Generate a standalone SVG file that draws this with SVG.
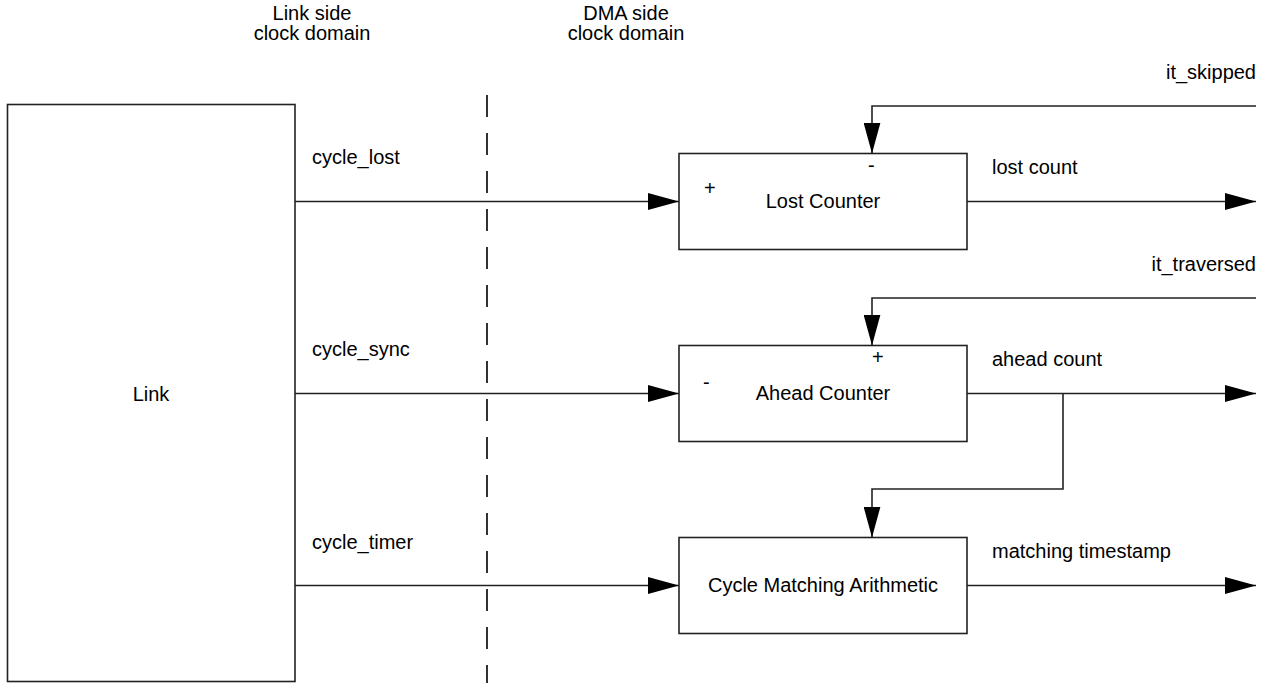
<svg xmlns="http://www.w3.org/2000/svg" width="1262" height="683" viewBox="0 0 1262 683">
<style>
text{font-family:"Liberation Sans",Arial,sans-serif;font-size:20px;fill:#000}
.box{fill:#fff;stroke:#222;stroke-width:1.6}
.wire{fill:none;stroke:#222;stroke-width:1.6}
.mid{text-anchor:middle}
.end{text-anchor:end}
</style>
<defs>
<marker id="arr" viewBox="0 0 31 17" refX="31" refY="8.5" markerWidth="31" markerHeight="17" markerUnits="userSpaceOnUse" orient="auto">
<path d="M0,0 L31,8.5 L0,17 Z" fill="#000"/>
</marker>
</defs>
<rect width="1262" height="683" fill="#fff"/>
<g id="headers">
<text class="mid" x="312" y="20">Link side</text>
<text class="mid" x="312" y="40">clock domain</text>
<text class="mid" x="626" y="20">DMA side</text>
<text class="mid" x="626" y="40">clock domain</text>
</g>
<line x1="487" y1="95" x2="487" y2="683" stroke="#000" stroke-width="1.6" stroke-dasharray="22,16"/>
<g id="link">
<rect class="box" x="7.5" y="104.5" width="287.5" height="577"/>
<text class="mid" x="151" y="401">Link</text>
</g>
<g id="lost-counter">
<rect class="box" x="679" y="153.5" width="288" height="96"/>
<text class="mid" x="823" y="208">Lost Counter</text>
<text x="704" y="195">+</text>
<text x="868" y="172">-</text>
</g>
<g id="ahead-counter">
<rect class="box" x="679" y="345.5" width="288" height="96"/>
<text class="mid" x="823" y="400">Ahead Counter</text>
<text x="872" y="364">+</text>
<text x="703" y="389">-</text>
</g>
<g id="cycle-matching">
<rect class="box" x="679" y="537.5" width="288" height="96"/>
<text class="mid" x="823" y="592">Cycle Matching Arithmetic</text>
</g>
<g id="connectors">
<path class="wire" d="M295,201.5 H679" marker-end="url(#arr)"/>
<path class="wire" d="M295,393.5 H679" marker-end="url(#arr)"/>
<path class="wire" d="M295,585.5 H679" marker-end="url(#arr)"/>
<path class="wire" d="M967,201.5 H1256" marker-end="url(#arr)"/>
<path class="wire" d="M967,393.5 H1256" marker-end="url(#arr)"/>
<path class="wire" d="M967,585.5 H1256" marker-end="url(#arr)"/>
<path class="wire" d="M1256,106 H872 V153.5" marker-end="url(#arr)"/>
<path class="wire" d="M1256,298 H872 V345.5" marker-end="url(#arr)"/>
<path class="wire" d="M1063,393.5 V489 H872 V537.5" marker-end="url(#arr)"/>
</g>
<g id="labels">
<text x="312" y="164">cycle_lost</text>
<text x="312" y="356">cycle_sync</text>
<text x="312" y="549">cycle_timer</text>
<text x="992" y="174">lost count</text>
<text x="992" y="366">ahead count</text>
<text x="992" y="558">matching timestamp</text>
<text class="end" x="1256" y="79">it_skipped</text>
<text class="end" x="1256" y="271">it_traversed</text>
</g>
</svg>
